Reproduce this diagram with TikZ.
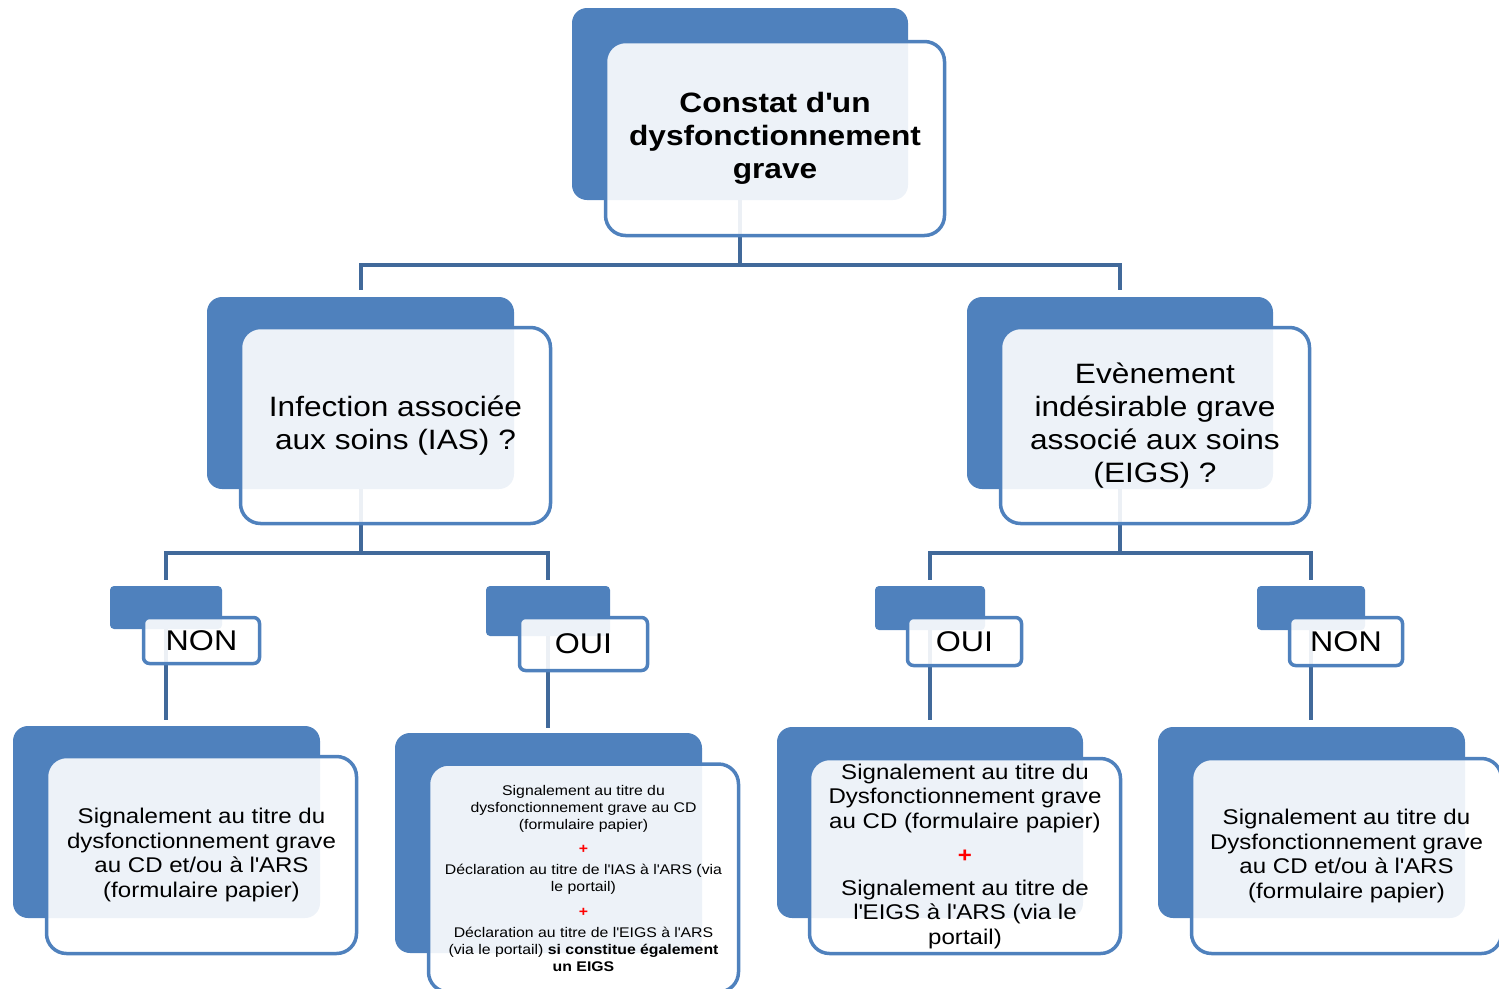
\documentclass[tikz,border=0pt]{standalone}
\usepackage{fontspec}
\setmainfont{Liberation Sans}[FakeStretch=1.13]
\usetikzlibrary{calc}
\definecolor{accent}{HTML}{4F81BD}
\definecolor{connc}{HTML}{41699A}
\definecolor{plusred}{HTML}{FF0000}
\newcommand{\aps}{\textquotesingle}
\newcommand{\plusmark}{{\color{plusred}\textbf{+}}}
\tikzset{
  backbox/.style={fill=accent, rounded corners=15pt, inner sep=0pt},
  frontbox/.style={draw=accent, line width=3.5pt, fill=white, fill opacity=0.9, text opacity=1,
                   rounded corners=20pt, inner sep=0pt, align=center, text=black},
  smallback/.style={backbox, rounded corners=4pt},
  smallfront/.style={frontbox, rounded corners=6pt, font=\fontsize{28.5}{34}\selectfont},
  connline/.style={draw=connc, line width=4pt},
  bigtext/.style={font=\fontsize{28}{33}\selectfont},
  leaftext/.style={font=\fontsize{21.3}{24.5}\selectfont},
}
\begin{document}
\begin{tikzpicture}[x=1pt,y=-1pt]
\useasboundingbox (0,0) rectangle (1499,988);

% back boxes
\node[backbox, minimum width=336pt, minimum height=192pt] (top) at (740,104) {};
\node[backbox, minimum width=307pt, minimum height=192pt] (ias) at (360.5,393) {};
\node[backbox, minimum width=306pt, minimum height=192pt] (eigs) at (1120,393) {};
\node[smallback, minimum width=112pt, minimum height=43pt] (non1) at (166,607.5) {};
\node[smallback, minimum width=124pt, minimum height=50pt] (oui1) at (548,611) {};
\node[smallback, minimum width=110pt, minimum height=44pt] (oui2) at (930,608) {};
\node[smallback, minimum width=108pt, minimum height=44pt] (non2) at (1311,608) {};
\node[backbox, minimum width=307pt, minimum height=192pt] (leaf1) at (166.5,822) {};
\node[backbox, minimum width=307pt, minimum height=220pt] (leaf2) at (548.5,843) {};
\node[backbox, minimum width=306pt, minimum height=191pt] (leaf3) at (930,822.5) {};
\node[backbox, minimum width=307pt, minimum height=191pt] (leaf4) at (1311.5,822.5) {};

% connectors
\coordinate (j1) at (740,265);
\coordinate (j2) at (360.5,553);
\coordinate (j3) at (1120,553);
\draw[connline] (top.south) -- (j1);
\draw[connline] (j1) -| ($(ias.north)+(0,-7)$);
\draw[connline] (j1) -| ($(eigs.north)+(0,-7)$);
\draw[connline] (ias.south) -- (j2);
\draw[connline] (j2) -| ($(non1.north)+(0,-6)$);
\draw[connline] (j2) -| ($(oui1.north)+(0,-6)$);
\draw[connline] (eigs.south) -- (j3);
\draw[connline] (j3) -| ($(oui2.north)+(0,-6)$);
\draw[connline] (j3) -| ($(non2.north)+(0,-6)$);
\draw[connline] (non1.south) -- ($(non1.south |- leaf1.north)+(0,-6)$);
\draw[connline] (oui1.south) -- ($(oui1.south |- leaf2.north)+(0,-5)$);
\draw[connline] (oui2.south) -- ($(oui2.south |- leaf3.north)+(0,-7)$);
\draw[connline] (non2.south) -- ($(non2.south |- leaf4.north)+(0,-7)$);

% front boxes with text
\node[frontbox, bigtext, minimum width=339pt, minimum height=194pt] (topF) at (775,138.5)
  {\textbf{Constat d\aps un}\\\textbf{dysfonctionnement}\\\textbf{grave}};
\node[frontbox, bigtext, minimum width=310pt, minimum height=196pt] (iasF) at (395.5,425.5)
  {Infection associée\\aux soins (IAS) ?};
\node[frontbox, bigtext, minimum width=309pt, minimum height=196pt] (eigsF) at (1155,425.5)
  {Evènement\\indésirable grave\\associé aux soins\\(EIGS) ?};
\node[smallfront, minimum width=116pt, minimum height=46pt] (non1F) at (201.5,640.5) {NON};
\node[smallfront, minimum width=128pt, minimum height=53pt] (oui1F) at (583.5,644) {OUI};
\node[smallfront, minimum width=114pt, minimum height=48pt] (oui2F) at (964.5,641.5) {OUI};
\node[smallfront, minimum width=113pt, minimum height=48pt] (non2F) at (1346,641.5) {NON};
\node[frontbox, leaftext, minimum width=310pt, minimum height=197pt] (leaf1F) at (201.5,855)
  {Signalement au titre du\\dysfonctionnement grave\\au CD et/ou à l\aps ARS\\(formulaire papier)};
\node[frontbox, font=\fontsize{14}{17}\selectfont, minimum width=310pt, minimum height=228pt] (leaf2F) at (583.5,878)
  {Signalement au titre du\\dysfonctionnement grave au CD\\(formulaire papier)\\[7pt]
   \plusmark\\[4pt]
   Déclaration au titre de l\aps IAS à l\aps ARS (via\\le portail)\\[8pt]
   \plusmark\\[4pt]
   Déclaration au titre de l\aps EIGS à l\aps ARS\\(via le portail) \textbf{si constitue également}\\\textbf{un EIGS}};
\node[frontbox, leaftext, minimum width=311pt, minimum height=195pt] (leaf3F) at (965,856)
  {Signalement au titre du\\Dysfonctionnement grave\\au CD (formulaire papier)\\[10pt]
   \plusmark\\[8pt]
   Signalement au titre de\\l\aps EIGS à l\aps ARS (via le\\portail)};
\node[frontbox, leaftext, minimum width=310pt, minimum height=195pt] (leaf4F) at (1346.5,856)
  {Signalement au titre du\\Dysfonctionnement grave\\au CD et/ou à l\aps ARS\\(formulaire papier)};
\end{tikzpicture}
\end{document}
